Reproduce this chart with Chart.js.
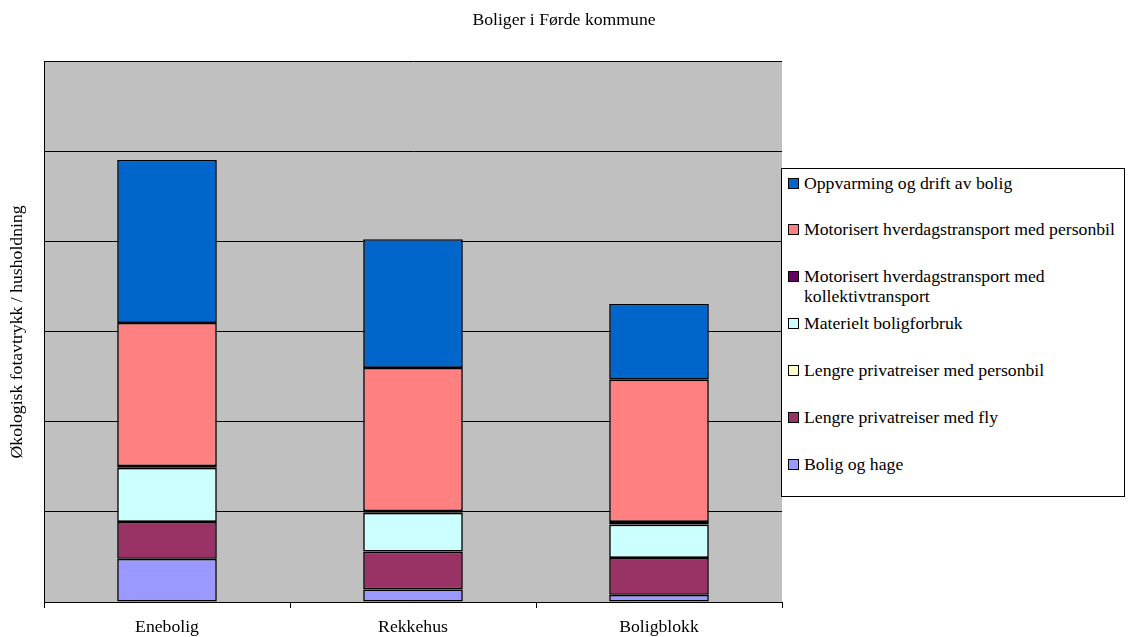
<!DOCTYPE html>
<html>
<head>
<meta charset="utf-8">
<script src="https://cdn.jsdelivr.net/npm/chart.js@4.4.0/dist/chart.umd.min.js"></script>
<style>
  html, body { margin: 0; padding: 0; background: #fff; }
  #wrap { position: relative; width: 1128px; height: 637px; overflow: hidden; }
  #legend { position: absolute; left: 781px; top: 168px; width: 342px; height: 327px;
            border: 1px solid #000; background: #fff; font-family: "Liberation Serif", "Times New Roman", serif;
            font-size: 17.7px; color: #000; }
  .item { position: absolute; left: 6px; width: 332px; line-height: 19.5px; }
  .sw { position: absolute; left: 0; top: 4px; width: 9px; height: 9px; border: 1.5px solid #000; }
  .tx { position: absolute; left: 16px; width: 318px; }
</style>
</head>
<body>
<div id="wrap">
  <canvas id="c" width="1128" height="637"></canvas>
  <div id="legend"></div>
</div>
<script>
// ---- data ----
const categories = ["Enebolig", "Rekkehus", "Boligblokk"];
const seriesNames = [
  "Bolig og hage",
  "Lengre privatreiser med fly",
  "Lengre privatreiser med personbil",
  "Materielt boligforbruk",
  "Motorisert hverdagstransport med kollektivtransport",
  "Motorisert hverdagstransport med personbil",
  "Oppvarming og drift av bolig"
];
const boligOgHage        = [0.48, 0.14, 0.08];
const fly                = [0.41, 0.42, 0.41];
const lengrePersonbil    = [0.00, 0.00, 0.00];
const materielt          = [0.60, 0.43, 0.37];
const kollektiv          = [0.02, 0.02, 0.03];
const hverdagPersonbil   = [1.59, 1.59, 1.58];
const oppvarming         = [1.81, 1.43, 0.84];
const yTicks = [0, 1, 2, 3, 4, 5, 6];

const seriesValues = [boligOgHage, fly, lengrePersonbil, materielt, kollektiv, hverdagPersonbil, oppvarming];
const seriesColors = ["#9999FF", "#993366", "#FFFFCC", "#CCFFFF", "#660066", "#FF8080", "#0066CC"];

const FONT = "'Liberation Serif', 'Times New Roman', serif";

const bgPlugin = {
  id: 'plotBg',
  beforeDraw(chart) {
    const {ctx, chartArea: a} = chart;
    ctx.save();
    ctx.fillStyle = '#C0C0C0';
    ctx.fillRect(a.left, a.top, a.right - a.left, a.bottom - a.top);
    ctx.restore();
  }
};

new Chart(document.getElementById('c'), {
  type: 'bar',
  data: {
    labels: categories,
    datasets: seriesNames.map((n, i) => ({
      label: n,
      data: seriesValues[i],
      backgroundColor: seriesColors[i],
      borderColor: '#000',
      borderWidth: 1.6,
      borderSkipped: false,
      barPercentage: 0.405,
      categoryPercentage: 1.0,
      yAxisID: 'y'
    }))
  },
  options: {
    responsive: false,
    animation: false,
    devicePixelRatio: 1,
    layout: { padding: 0 },
    plugins: {
      legend: { display: false },
      tooltip: { enabled: false },
      title: {
        display: true,
        text: 'Boliger i Førde kommune',
        color: '#000',
        font: { family: FONT, size: 17.7, weight: 'normal', lineHeight: 1.2 },
        padding: { top: 10, bottom: 30.6 }
      }
    },
    scales: {
      x: {
        stacked: true,
        offset: true,
        afterFit(scale) { scale.height = 35; },
        grid: { display: true, drawOnChartArea: false, drawTicks: true, tickLength: 6, offset: true, color: '#000', lineWidth: 1 },
        border: { display: true, color: '#000', width: 1 },
        ticks: { color: '#000', padding: 11, font: { family: FONT, size: 17.7, lineHeight: 1.0 } }
      },
      y: {
        stacked: true,
        position: 'left',
        min: yTicks[0],
        max: yTicks[yTicks.length - 1],
        afterBuildTicks(scale) { scale.ticks = yTicks.map(v => ({ value: v })); },
        afterFit(scale) { scale.width = 44; },
        ticks: { display: false },
        grid: { color: '#000', lineWidth: 1, drawTicks: false },
        border: { display: true, color: '#000', width: 1 },
        title: {
          display: true,
          text: 'Økologisk fotavtrykk / husholdning',
          color: '#000',
          font: { family: FONT, size: 17.7, weight: 'normal', lineHeight: 1.2 },
          padding: { top: 7, bottom: 15 }
        }
      },
      yRight: {
        position: 'right',
        min: 0,
        max: 1,
        afterFit(scale) { scale.width = 346; },
        ticks: { display: false },
        grid: { drawOnChartArea: false, drawTicks: false },
        border: { display: false }
      }
    }
  },
  plugins: [bgPlugin]
});

// ---- HTML legend (reverse order, like the original) ----
const legend = document.getElementById('legend');
const order = seriesNames.map((_, i) => i).reverse();
order.forEach((si, k) => {
  const it = document.createElement('div');
  it.className = 'item';
  it.style.top = (4.5 + k * 46.9) + 'px';
  const sw = document.createElement('div');
  sw.className = 'sw';
  sw.style.background = seriesColors[si];
  const tx = document.createElement('div');
  tx.className = 'tx';
  tx.textContent = seriesNames[si];
  it.appendChild(sw);
  it.appendChild(tx);
  legend.appendChild(it);
});
</script>
</body>
</html>
